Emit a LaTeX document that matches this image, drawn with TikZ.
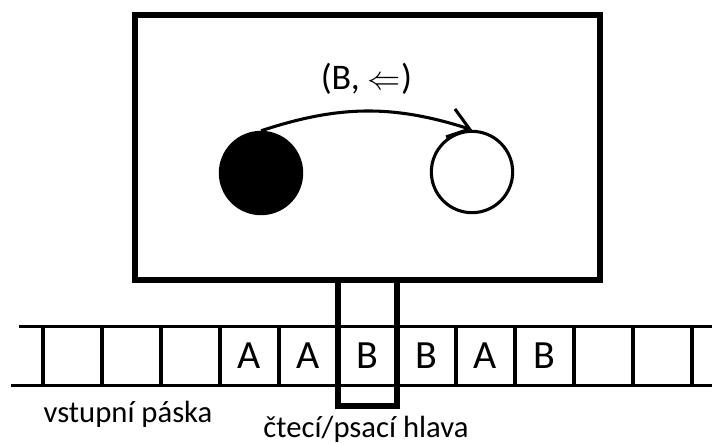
\documentclass[tikz,border=0pt]{standalone}
\usepackage{fontspec}
\setmainfont{Carlito}
\usetikzlibrary{arrows.meta}

\begin{document}
\begin{tikzpicture}[x=0.75pt, y=-0.75pt,
	frame/.style={line width=4.5pt},
	tape/.style={line width=2.5pt},
	state/.style={circle, draw, line width=2.3pt, minimum size=61pt, inner sep=0pt},
	symb/.style={font=\fontsize{30}{34}\selectfont},
	caption/.style={font=\fontsize{23}{26}\selectfont, anchor=base}]

	\useasboundingbox (0,0) rectangle (712,443);

	\coordinate (T1) at (19,326.5);
	\coordinate (T2) at (11,385.5);

	\node[state, fill=black] (q0) at (261,173) {};
	\node[state] (q1) at (472,172) {};
	\draw[line width=2.3pt, -{Straight Barb[length=15pt, width=22pt]}] (q0.north) to[bend left=18] node[above=8pt, font=\fontsize{27}{32}\selectfont] {(B, $\Leftarrow$)} (q1.north);

	\draw[frame] (135,14.5) rectangle (600,280);

	% tape
	\draw[tape] (T1) -- (712,326.5);
	\draw[tape] (T2) -- (712,385.5);
	\foreach \i in {0,...,11}
		\draw[tape, line width=2.3pt] ({43+59*\i},326.5) -- ++(0,59);
	\foreach \s [count=\i from 3] in {A,A,B,B,A,B}
		\node[symb] at ({43+59*\i+29.5},356) {\s};

	% head
	\draw[frame] (338,280) -- (338,406) -- (397,406) -- (397,280);

	\node[caption] at (128,422) {vstupní páska};
	\node[caption] at (366,437) {čtecí/psací hlava};
\end{tikzpicture}
\end{document}
